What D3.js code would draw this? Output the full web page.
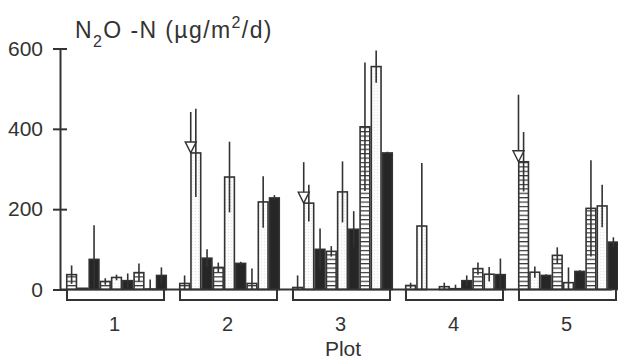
<!DOCTYPE html>
<html><head><meta charset="utf-8">
<script src="https://cdn.jsdelivr.net/npm/d3@7"></script>
<style>body{margin:0;background:#fff}svg{display:block}text{font-family:"Liberation Sans",Arial,sans-serif;fill:#333}</style>
</head><body>
<svg id="c" width="618" height="361"></svg>
<script>
const plots = ["1","2","3","4","5"];
const patterns = ["grid","white","black","grid","white","black","grid","white","black"];
const plot1 = [37, 3, 75, 20, 30, 22, 42, 1, 35];
const plot1SE = [23, 0, 85, 8, 7, 18, 23, 24, 20];
const plot2 = [15, 340, 78, 55, 280, 65, 15, 218, 228];
const plot2SE = [20, 110, 22, 12, 88, 4, 37, 64, 7];
const plot3 = [5, 215, 100, 95, 243, 150, 405, 555, 340];
const plot3SE = [30, 46, 52, 13, 76, 45, 160, 40, 3];
const plot4 = [10, 158, 0, 7, 2, 22, 52, 38, 37];
const plot4SE = [7, 157, 0, 10, 10, 13, 15, 18, 40];
const plot5 = [318, 43, 35, 85, 17, 45, 202, 208, 118];
const plot5SE = [74, 14, 3, 20, 38, 3, 120, 53, 12];
const yTicks = [0, 200, 400, 600];
// arrows: plot, bar index, value where the arrow line starts
const arrowPlot = ["2","3","5"];
const arrowBar = [1, 1, 0];
const arrowTop = [442, 317, 485];

const means = [plot1, plot2, plot3, plot4, plot5];
const ses = [plot1SE, plot2SE, plot3SE, plot4SE, plot5SE];

const svg = d3.select("#c");
const ink = "#333";
const defs = svg.append("defs");
const pg = defs.append("pattern").attr("id","grid").attr("patternUnits","userSpaceOnUse")
  .attr("width",20).attr("height",4.4).attr("y",289.5);
pg.append("rect").attr("width",20).attr("height",4.4).attr("fill","#fff");
pg.append("line").attr("x1",0).attr("x2",20).attr("y1",0.6).attr("y2",0.6).attr("stroke",ink).attr("stroke-width",1.2);
const pw = defs.append("pattern").attr("id","white").attr("patternUnits","userSpaceOnUse")
  .attr("width",3).attr("height",3);
pw.append("rect").attr("width",3).attr("height",3).attr("fill","#fcfcfc");
pw.append("rect").attr("x",1).attr("y",1).attr("width",1).attr("height",1).attr("fill","#e6e6e6");
const fills = {grid:"url(#grid)", white:"url(#white)", black:"#262626"};

const y = d3.scaleLinear().domain([0,600]).range([289.5,48.5]);
const x = d3.scaleBand().domain(plots).range([66,619]).paddingInner(0.106).paddingOuter(0);
const xi = d3.scaleBand().domain(d3.range(9)).range([0, x.bandwidth()]).padding(0);

// y axis
const yAxis = d3.axisLeft(y).tickValues(yTicks).tickSizeInner(7).tickSizeOuter(0).tickPadding(10);
const ga = svg.append("g").attr("transform","translate(60,0)").call(yAxis);
ga.select(".domain").attr("stroke",ink).attr("stroke-width",2);
ga.selectAll(".tick line").attr("stroke",ink).attr("stroke-width",2).attr("x2",7).attr("x1",-7);
ga.selectAll(".tick text").attr("font-size",21).attr("fill",ink).attr("x",-17)
  .attr("font-family","Liberation Sans, Arial, sans-serif");

// bars
plots.forEach((p,pi)=>{
  const g = svg.append("g").attr("transform",`translate(${x(p)},0)`);
  const data = means[pi].map((v,i)=>({v, se:ses[pi][i], pat:patterns[i], i}));
  g.selectAll("rect.bar").data(data).join("rect").attr("class","bar")
    .attr("x",d=>xi(d.i)+0.75).attr("width",xi.bandwidth()-1.5)
    .attr("y",d=>y(d.v)).attr("height",d=>y(0)-y(d.v))
    .attr("fill",d=>fills[d.pat]).attr("stroke",ink).attr("stroke-width",1.6)
    .attr("display",d=>d.v>0?null:"none");
  g.selectAll("line.err").data(data.filter(d=>d.se>0)).join("line").attr("class","err")
    .attr("x1",d=>xi(d.i)+xi.bandwidth()/2).attr("x2",d=>xi(d.i)+xi.bandwidth()/2)
    .attr("y1",d=>y(Math.max(0,d.v-d.se))).attr("y2",d=>y(d.v+d.se))
    .attr("stroke",ink).attr("stroke-width",1.6);
  // bracket
  const b0 = 1, b1 = x.bandwidth()-3, by = 300;
  g.append("path").attr("d",`M${b0},290V${by}H${b1}V290`).attr("fill","none")
    .attr("stroke",ink).attr("stroke-width",2);
  g.append("text").attr("x",x.bandwidth()/2-2).attr("y",331).attr("text-anchor","middle")
    .attr("font-size",20).text(p);
});

// arrows
arrowPlot.forEach((p,k)=>{
  const bi = arrowBar[k];
  const xc = x(p)+xi(bi)+0.5;
  const v = means[plots.indexOf(p)][bi];
  const tip = y(v);
  svg.append("line").attr("x1",xc).attr("x2",xc).attr("y1",y(arrowTop[k])).attr("y2",tip-10)
    .attr("stroke",ink).attr("stroke-width",1.6);
  svg.append("path").attr("d",`M${xc-5.5},${tip-11}L${xc+5.5},${tip-11}L${xc},${tip}Z`)
    .attr("fill","#fff").attr("stroke",ink).attr("stroke-width",1.4);
});

// baseline
svg.append("line").attr("x1",60).attr("x2",612).attr("y1",y(0)).attr("y2",y(0))
  .attr("stroke",ink).attr("stroke-width",2);

// title
const t = svg.append("text").attr("x",75).attr("y",38).attr("font-size",23).attr("letter-spacing",1.4);
t.append("tspan").text("N");
t.append("tspan").attr("font-size",16).attr("dy",9).text("2");
t.append("tspan").attr("dy",-9).text("O -N (µg/m");
t.append("tspan").attr("font-size",16).attr("dy",-10).text("2");
t.append("tspan").attr("dy",10).text("/d)");

svg.append("text").attr("x",343).attr("y",356).attr("text-anchor","middle").attr("font-size",21).text("Plot");
</script>
</body></html>
